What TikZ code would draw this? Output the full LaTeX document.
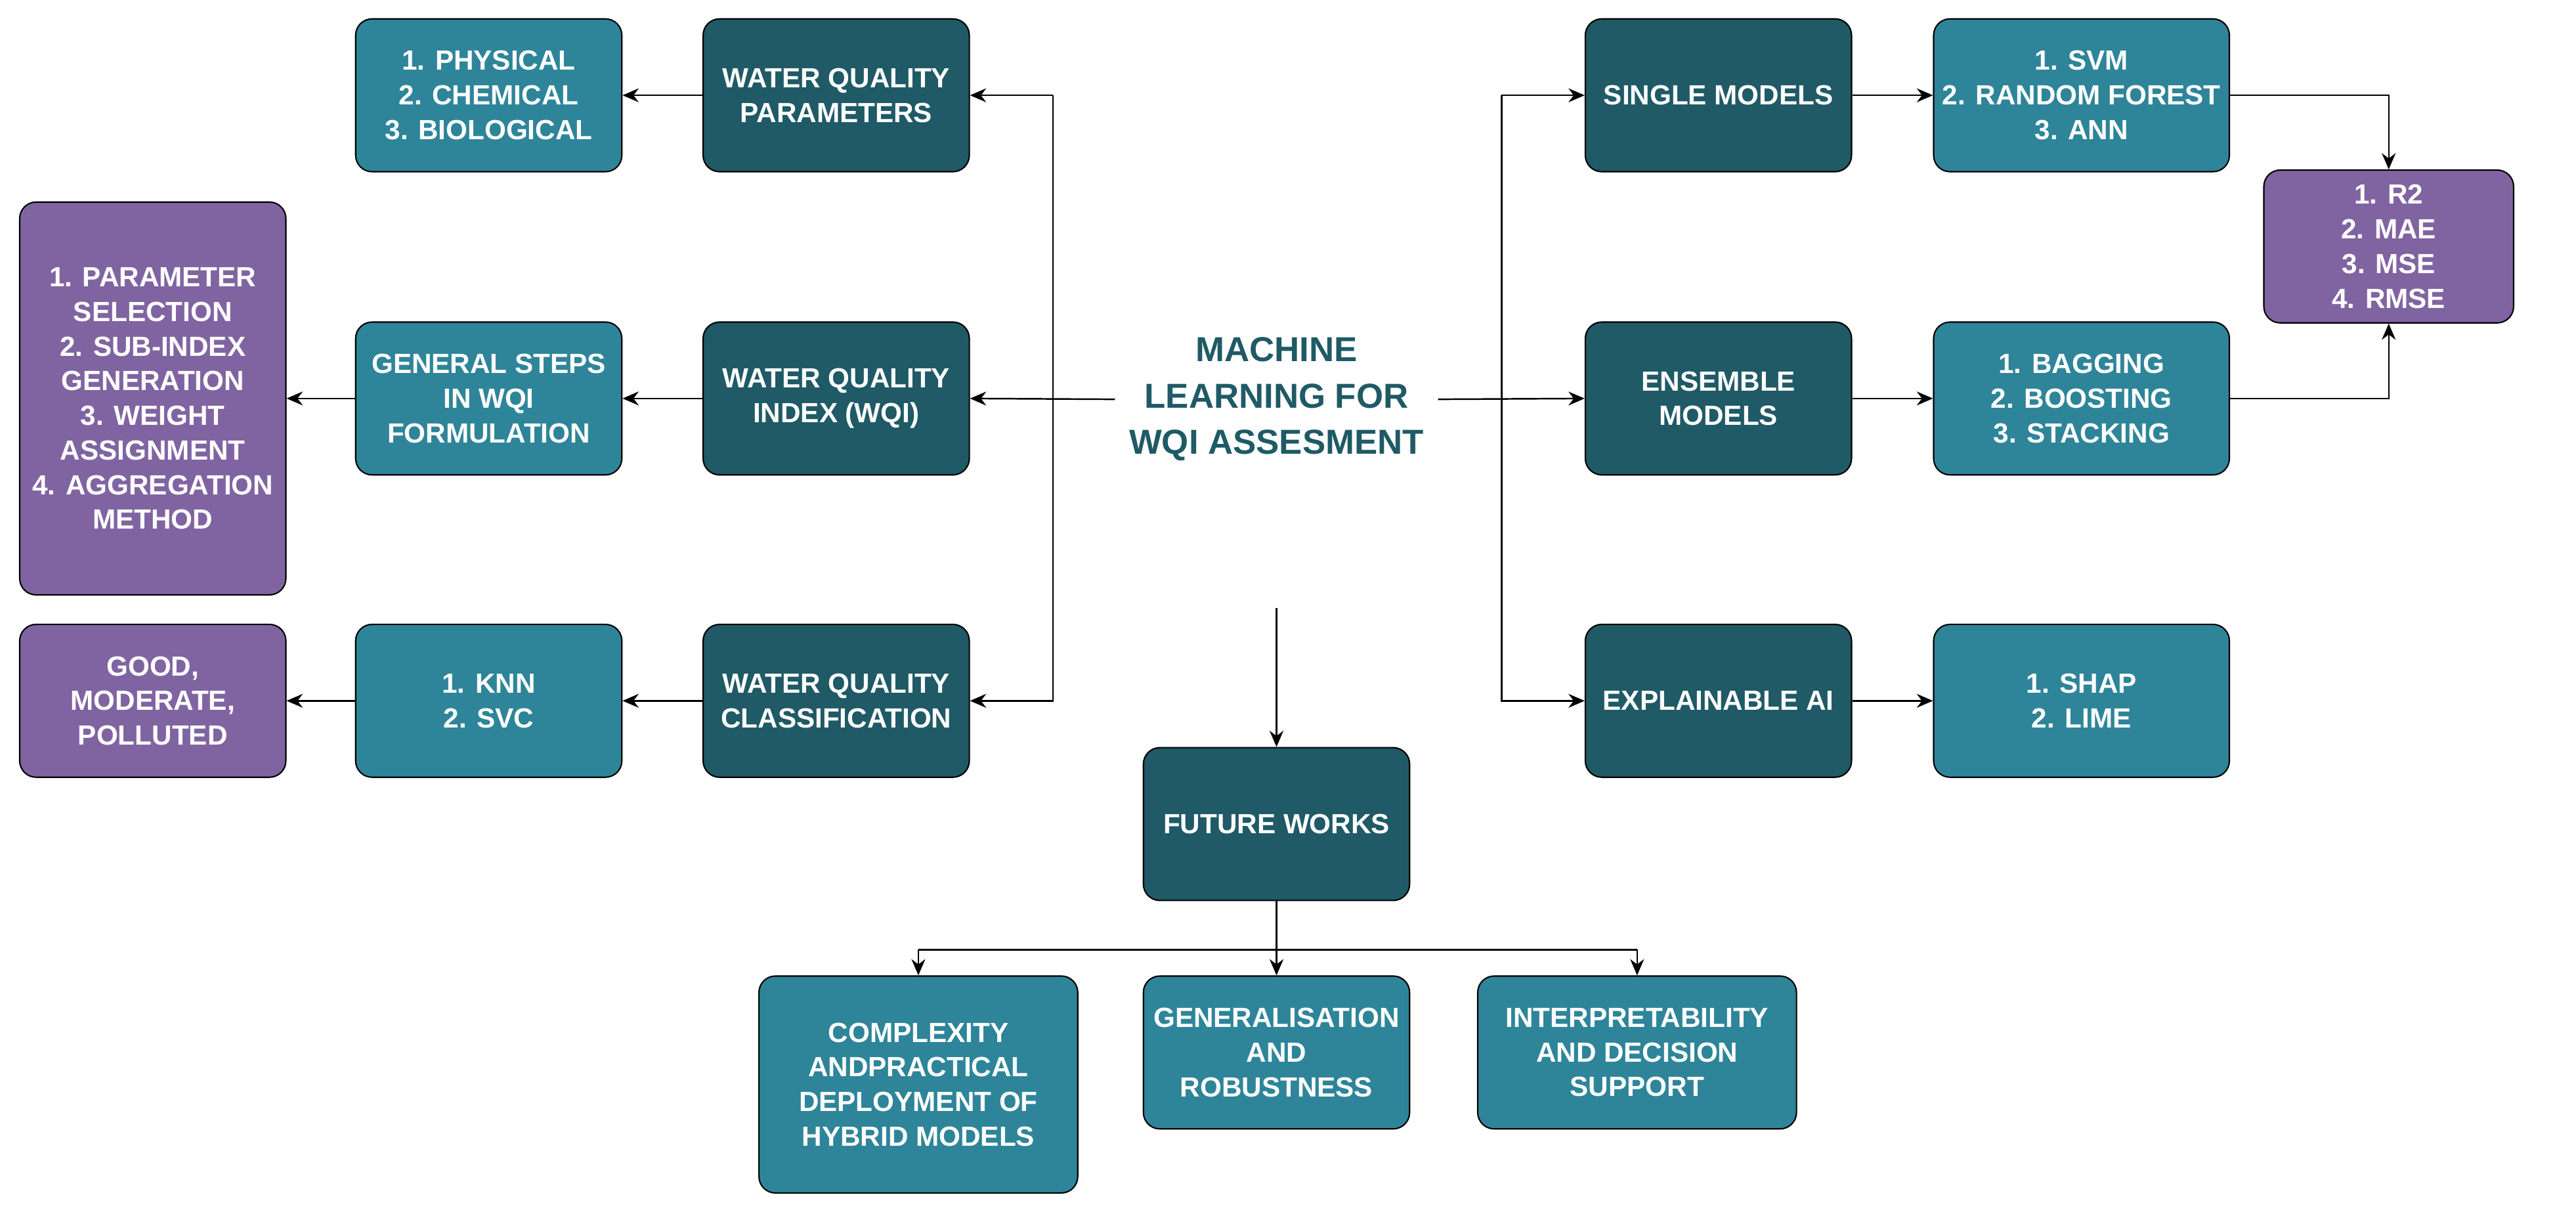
\documentclass[tikz,border=0pt]{standalone}
\usepackage{fontspec}
\setmainfont{Liberation Sans}
\usetikzlibrary{arrows.meta}
\definecolor{dk}{HTML}{1F5A66}
\definecolor{lt}{HTML}{2E8599}
\definecolor{pu}{HTML}{8064A2}
\tikzset{
 bx/.style={draw=black, line width=0.6pt, rounded corners=0.25cm, text=white, align=center,
   font=\fontsize{12}{15}\selectfont\bfseries, inner sep=2pt},
 dkb/.style={bx, fill=dk},
 ltb/.style={bx, fill=lt},
 pub/.style={bx, fill=pu},
 std/.style={minimum width=4.05cm, minimum height=2.325cm},
 ar/.style={-{Stealth[length=7pt,width=6pt]}, line width=0.7pt},
 ln/.style={line width=0.7pt}
}
\begin{document}
\begin{tikzpicture}[x=0.025cm,y=-0.025cm]
\useasboundingbox (0,0) rectangle (1568,741);
\node[ltb,std] (phys) at (297.5,58) {1. PHYSICAL\\2. CHEMICAL\\3. BIOLOGICAL};
\node[dkb,std] (wqp) at (509,58) {WATER QUALITY\\PARAMETERS};
\node[pub,minimum width=4.05cm,minimum height=5.975cm] (p1) at (93,242.5) {1. PARAMETER\\SELECTION\\2. SUB-INDEX\\GENERATION\\3. WEIGHT\\ASSIGNMENT\\4. AGGREGATION\\METHOD};
\node[ltb,std] (gen) at (297.5,242.5) {GENERAL STEPS\\IN WQI\\FORMULATION};
\node[dkb,std] (wqi) at (509,242.5) {WATER QUALITY\\INDEX (WQI)};
\node[pub,std] (good) at (93,426.5) {GOOD,\\MODERATE,\\POLLUTED};
\node[ltb,std] (knn) at (297.5,426.5) {1. KNN\\2. SVC};
\node[dkb,std] (wqc) at (509,426.5) {WATER QUALITY\\CLASSIFICATION};
\node[text=dk, align=center, font=\fontsize{15}{20}\selectfont\bfseries, minimum width=4.9cm] (ml) at (777,243) {MACHINE\\LEARNING FOR\\WQI ASSESMENT};
\node[dkb,std] (single) at (1046,58) {SINGLE MODELS};
\node[ltb,minimum width=4.5cm,minimum height=2.325cm] (svm) at (1267,58) {1. SVM\\2. RANDOM FOREST\\3. ANN};
\node[pub,minimum width=3.8cm,minimum height=2.325cm] (met) at (1454,150) {1. R2\\2. MAE\\3. MSE\\4. RMSE};
\node[dkb,std] (ens) at (1046,242.5) {ENSEMBLE\\MODELS};
\node[ltb,minimum width=4.5cm,minimum height=2.325cm] (bag) at (1267,242.5) {1. BAGGING\\2. BOOSTING\\3. STACKING};
\node[dkb,std] (xai) at (1046,426.5) {EXPLAINABLE AI};
\node[ltb,minimum width=4.5cm,minimum height=2.325cm] (shap) at (1267,426.5) {1. SHAP\\2. LIME};
\node[dkb,std] (fw) at (777,501.5) {FUTURE WORKS};
\node[ltb,minimum width=4.85cm,minimum height=3.3cm] (cx) at (559,660) {COMPLEXITY\\ANDPRACTICAL\\DEPLOYMENT OF\\HYBRID MODELS};
\node[ltb,std] (gn) at (777,640.5) {GENERALISATION\\AND\\ROBUSTNESS};
\node[ltb,minimum width=4.85cm,minimum height=2.325cm] (in) at (996.5,640.5) {INTERPRETABILITY\\AND DECISION\\SUPPORT};
% left side
\draw[ar] (ml.west) -- (wqi.east);
\coordinate (lv) at (641,243);
\draw[ln] (641,58) -- (641,427);
\draw[ar] (641,58) -- (wqp.east);
\draw[ar] (641,426.5) -- (wqc.east);
\draw[ar] (wqp) -- (phys);
\draw[ar] (wqi) -- (gen);
\draw[ar] (gen) -- (p1);
\draw[ar] (wqc) -- (knn);
\draw[ar] (knn) -- (good);
% right side
\draw[ar] (ml.east) -- (ens.west);
\draw[ln] (914,58) -- (914,427);
\draw[ar] (914,58) -- (single.west);
\draw[ar] (914,426.5) -- (xai.west);
\draw[ar] (single) -- (svm);
\draw[ar] (ens) -- (bag);
\draw[ar] (xai) -- (shap);
\draw[ar] (svm.east) -| (met.north);
\draw[ar] (bag.east) -| (met.south);
% down
\coordinate (md) at (777,370);
\draw[ar] (md) -- (fw.north);
\coordinate (hb) at (777,578);
\draw[ln] (fw.south) -- (hb);
\draw[ln] (559,578) -- (996.5,578);
\draw[ar] (559,578) -- (cx.north);
\draw[ar] (hb) -- (gn.north);
\draw[ar] (996.5,578) -- (in.north);
\end{tikzpicture}
\end{document}
